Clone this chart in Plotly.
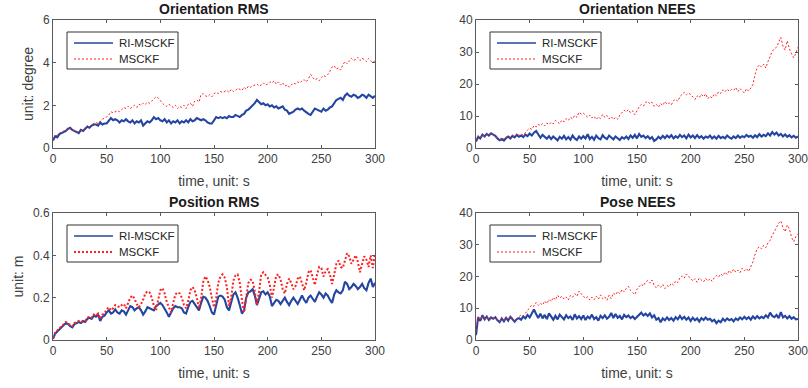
import plotly.graph_objects as go

time_s = list(range(0, 301, 2))

ori_rms_ri = [
    0.35, 0.55, 0.5, 0.65, 0.7, 0.75, 0.8, 0.9, 0.95, 0.85,
    0.8, 0.75, 0.7, 0.85, 0.8, 0.9, 1.0, 0.95, 1.05, 1.1,
    1.1, 1.05, 1.2, 1.1, 1.15, 1.15, 1.3, 1.4, 1.3, 1.35,
    1.3, 1.2, 1.3, 1.25, 1.35, 1.25, 1.2, 1.3, 1.15, 1.25,
    1.2, 1.3, 1.05, 1.15, 1.25, 1.2, 1.3, 1.45, 1.35, 1.4,
    1.3, 1.25, 1.35, 1.2, 1.3, 1.15, 1.25, 1.2, 1.3, 1.15,
    1.25, 1.2, 1.3, 1.2, 1.35, 1.25, 1.3, 1.4, 1.35, 1.3,
    1.35, 1.3, 1.2, 1.15, 1.15, 1.3, 1.45, 1.4, 1.45, 1.4,
    1.45, 1.4, 1.5, 1.45, 1.45, 1.55, 1.5, 1.45, 1.55, 1.6,
    1.75, 1.8, 1.9, 2.0, 2.1, 2.25, 2.15, 2.05, 2.1, 2.0,
    2.05, 1.95, 2.0, 1.9, 1.95, 1.85, 1.9, 1.95, 1.8, 1.75,
    1.6, 1.65, 1.7, 1.8, 1.85, 1.8, 1.85, 1.75, 1.65, 1.6,
    1.55, 1.7, 1.85, 1.8, 1.75, 1.7, 1.85, 1.75, 1.8, 1.9,
    1.95, 2.1, 2.25, 2.3, 2.35, 2.25, 2.45, 2.55, 2.45, 2.4,
    2.5, 2.45, 2.35, 2.4, 2.5, 2.45, 2.35, 2.5, 2.4, 2.35,
    2.45]

ori_rms_ms = [
    0.45, 0.55, 0.6, 0.7, 0.75, 0.8, 0.85, 0.95, 0.9, 0.85,
    0.8, 0.75, 0.75, 0.85, 0.85, 0.95, 1.05, 1.0, 1.1, 1.15,
    1.2, 1.15, 1.25, 1.35, 1.4, 1.45, 1.55, 1.7, 1.65, 1.7,
    1.75, 1.7, 1.8, 1.9, 1.85, 1.95, 1.85, 1.95, 2.0, 1.9,
    2.05, 2.0, 2.1, 2.05, 2.15, 2.1, 2.2, 2.3, 2.4, 2.35,
    2.2, 2.1, 2.0, 1.95, 2.05, 1.95, 1.9, 2.0, 1.85, 1.95,
    1.9, 2.0, 1.85, 2.05, 2.1, 1.95, 2.2, 2.25, 2.15, 2.5,
    2.55, 2.45, 2.4, 2.5, 2.4, 2.55, 2.6, 2.55, 2.65, 2.6,
    2.65, 2.7, 2.6, 2.75, 2.65, 2.7, 2.8, 2.75, 2.7, 2.85,
    2.75, 2.9, 2.85, 2.9, 2.95, 3.0, 2.9, 2.95, 3.05, 2.95,
    3.0, 3.1, 3.05, 3.15, 3.0, 3.1, 2.95, 3.05, 2.9, 2.95,
    2.85, 2.95, 3.05, 3.0, 3.1, 3.05, 3.15, 3.2, 3.1, 3.25,
    3.45, 3.3, 3.2, 3.25, 3.15, 3.3, 3.4, 3.35, 3.45, 3.6,
    3.8, 3.85, 3.7, 3.75, 3.65, 3.9, 4.05, 3.95, 4.1, 4.2,
    4.1, 4.15, 4.25, 4.1, 4.2, 4.15, 4.05, 4.2, 4.1, 4.0,
    4.1]

ori_nees_ri = [
    2.0, 3.5, 3.0, 4.2, 3.6, 4.4, 3.9, 4.6, 4.2, 3.8,
    3.0, 2.4, 2.8, 2.3, 3.1, 3.6, 3.0, 3.8, 3.3, 4.1,
    3.5, 3.9, 3.4, 4.2, 3.7, 4.5, 3.9, 4.8, 5.3, 4.4,
    3.2, 4.1, 3.4, 2.9, 3.7, 2.8, 3.6, 3.1, 2.4, 3.5,
    2.9, 3.8, 2.7, 3.4, 2.6, 3.9, 3.0, 2.5, 3.6, 2.9,
    3.7, 3.0, 4.3, 2.8, 3.5, 2.6, 3.9, 3.1, 2.7, 4.0,
    3.2, 2.8, 3.9, 3.3, 2.7, 3.6, 3.0, 2.5, 3.4, 2.9,
    3.6, 2.8, 3.9, 3.2, 4.1, 3.0, 4.4, 3.5, 3.9, 3.1,
    3.7, 2.9, 3.4, 2.2, 2.7, 3.5, 2.9, 3.8, 3.1, 3.9,
    3.3, 4.0, 3.0, 3.7, 3.2, 4.1, 3.4, 3.9, 3.0, 4.2,
    3.3, 3.9, 3.1, 4.0, 3.2, 3.7, 2.9, 3.6, 3.2, 3.9,
    3.0, 3.6, 2.9, 3.8, 3.1, 3.5, 3.0, 3.9, 3.3, 2.9,
    3.6, 3.1, 3.9, 3.2, 3.7, 3.4, 4.1, 3.5, 3.8, 3.2,
    4.0, 3.4, 4.3, 3.6, 4.1, 3.7, 4.6, 3.9, 5.0, 4.2,
    4.8, 3.9, 4.4, 3.6, 4.2, 3.5, 4.0, 3.3, 3.8, 3.2,
    3.6]

ori_nees_ms = [
    2.5, 3.8, 3.2, 4.1, 3.6, 4.3, 4.0, 4.6, 4.1, 3.7,
    3.1, 2.6, 3.0, 2.8, 3.4, 3.8, 3.3, 4.0, 3.6, 4.3,
    3.9, 4.4, 4.0, 4.9, 5.6, 6.2, 5.8, 7.0, 6.6, 7.4,
    7.0, 7.6, 6.9, 7.8, 7.3, 8.0, 7.5, 8.6, 8.1, 7.6,
    8.7, 8.2, 9.2, 8.6, 9.6, 9.1, 10.2, 9.6, 11.2, 10.6,
    10.9, 10.1, 9.6, 10.3, 9.4, 9.9, 8.9, 9.7, 9.2, 10.5,
    9.6, 10.2, 9.1, 9.8, 8.9, 9.6, 9.0, 10.3, 11.0, 11.8,
    11.3, 12.0, 11.0, 11.6, 10.4, 11.8, 12.9, 13.6, 13.1, 14.2,
    14.6, 13.8, 14.3, 13.0, 13.6, 12.8, 13.9, 13.3, 14.5, 13.7,
    14.1, 13.5, 14.8, 15.2, 14.6, 16.1, 16.8, 17.4, 16.6, 17.2,
    16.7, 15.9, 15.2, 16.3, 15.7, 16.8, 16.0, 16.9, 15.4, 16.2,
    15.6, 16.9, 16.3, 17.6, 17.1, 18.2, 17.6, 18.4, 17.7, 18.3,
    18.0, 18.9, 17.6, 18.6, 17.9, 17.2, 18.5, 17.8, 18.7, 19.9,
    23.0, 25.2, 26.0, 25.3, 26.2, 25.0, 27.0, 28.8, 30.2, 31.0,
    31.5, 33.0, 34.6, 31.8, 30.6, 33.5, 31.0, 29.4, 28.2, 29.6,
    31.5]

pos_rms_ri = [
    0.005, 0.03, 0.04, 0.05, 0.06, 0.07, 0.08, 0.075, 0.065, 0.06,
    0.075, 0.08, 0.085, 0.08, 0.09, 0.085, 0.1, 0.105, 0.1, 0.115,
    0.11, 0.12, 0.09, 0.11, 0.115, 0.13, 0.14, 0.125, 0.13, 0.145,
    0.13, 0.125, 0.14, 0.135, 0.12, 0.14, 0.16, 0.155, 0.14, 0.15,
    0.155, 0.14, 0.12, 0.135, 0.155, 0.15, 0.145, 0.14, 0.16, 0.17,
    0.175, 0.165, 0.15, 0.13, 0.11, 0.13, 0.15, 0.16, 0.155, 0.155,
    0.15, 0.13, 0.125, 0.155, 0.18, 0.185, 0.17, 0.155, 0.14, 0.175,
    0.205, 0.2, 0.185, 0.16, 0.13, 0.12, 0.165, 0.205, 0.21, 0.205,
    0.19, 0.155, 0.14, 0.175, 0.215, 0.225, 0.2, 0.165, 0.125, 0.14,
    0.2, 0.225, 0.23, 0.24, 0.21, 0.165, 0.195, 0.225, 0.23, 0.215,
    0.225, 0.205, 0.16, 0.175, 0.19, 0.185, 0.17, 0.185, 0.2, 0.18,
    0.165, 0.185, 0.2, 0.185, 0.17, 0.19, 0.21, 0.19, 0.175, 0.2,
    0.21, 0.195, 0.18, 0.205, 0.225, 0.215, 0.2, 0.22, 0.21, 0.19,
    0.175, 0.215, 0.235, 0.225, 0.22, 0.235, 0.275, 0.265, 0.24, 0.25,
    0.265, 0.255, 0.24, 0.25, 0.265, 0.245, 0.235, 0.27, 0.29, 0.25,
    0.27]

pos_rms_ms = [
    0.01, 0.035, 0.045, 0.055, 0.065, 0.075, 0.085, 0.08, 0.07, 0.065,
    0.08, 0.085, 0.09, 0.085, 0.09, 0.09, 0.105, 0.11, 0.105, 0.12,
    0.115, 0.125, 0.1, 0.12, 0.125, 0.145, 0.155, 0.14, 0.15, 0.165,
    0.16, 0.155, 0.165, 0.17, 0.15, 0.175, 0.2, 0.21, 0.195, 0.17,
    0.155, 0.17, 0.19, 0.22, 0.23, 0.225, 0.2, 0.16, 0.14, 0.19,
    0.235, 0.245, 0.22, 0.18, 0.15, 0.13, 0.175, 0.215, 0.225, 0.22,
    0.2, 0.165, 0.15, 0.185, 0.235, 0.25, 0.235, 0.2, 0.15, 0.2,
    0.275, 0.3, 0.285, 0.25, 0.2, 0.155, 0.2, 0.27, 0.3, 0.31,
    0.295, 0.25, 0.16, 0.2, 0.28, 0.305, 0.31, 0.27, 0.19, 0.13,
    0.2, 0.27, 0.285, 0.28, 0.23, 0.165, 0.23, 0.31, 0.32, 0.305,
    0.295, 0.26, 0.2, 0.25, 0.305, 0.31, 0.285, 0.24, 0.22, 0.265,
    0.29, 0.27, 0.24, 0.255, 0.29, 0.3, 0.27, 0.235, 0.27, 0.32,
    0.33, 0.29, 0.26, 0.31, 0.345, 0.34, 0.3, 0.325, 0.335, 0.31,
    0.265, 0.31, 0.36, 0.375, 0.345, 0.34, 0.38, 0.41, 0.395, 0.36,
    0.38, 0.4, 0.37, 0.32, 0.36, 0.395, 0.38, 0.345, 0.4, 0.34,
    0.41]

pose_nees_ri = [
    1.5, 7.2, 6.0, 7.8, 6.5, 7.4, 6.3, 7.1, 6.7, 7.2,
    6.2, 5.6, 6.8, 5.9, 7.0, 6.1, 7.3, 6.4, 5.8, 6.6,
    6.9, 6.4, 7.4, 6.8, 7.9, 7.1, 8.3, 9.6, 8.2, 6.9,
    8.3, 6.8, 7.9, 6.6, 8.4, 7.2, 6.4, 7.6, 6.5, 8.0,
    7.1, 6.5, 7.8, 6.9, 7.4, 6.3, 8.1, 6.8, 7.5, 6.6,
    7.7, 6.3, 7.4, 6.8, 8.0, 6.6, 7.2, 6.1, 7.6, 6.9,
    7.8, 6.7, 7.3, 8.5, 6.9, 8.2, 7.0, 7.6, 6.5, 7.9,
    7.2, 7.7, 6.9, 7.4, 6.6, 7.3, 7.9, 8.6, 7.7, 8.3,
    7.6, 8.4, 7.1, 7.8, 6.4, 6.9, 5.6, 6.8, 6.2, 7.1,
    6.3, 6.9, 6.1, 7.2, 6.5, 7.6, 6.6, 7.3, 6.4, 7.1,
    6.0, 7.0, 6.2, 6.8, 5.8, 6.9, 6.3, 7.1, 6.4, 6.7,
    5.9, 6.4, 5.3, 6.1, 5.6, 6.7, 6.0, 6.8, 6.2, 6.6,
    5.9, 6.8, 6.3, 7.1, 6.5, 7.3, 6.6, 7.2, 6.4, 7.4,
    6.7, 7.5, 6.8, 7.3, 6.9, 7.8, 7.1, 8.6, 7.6, 7.2,
    7.9, 6.9, 8.8, 7.1, 7.6, 6.8, 7.5, 6.7, 7.2, 6.5,
    6.6]

pose_nees_ms = [
    3.0, 7.5, 6.3, 7.7, 6.6, 7.3, 6.4, 7.0, 6.6, 7.1,
    6.3, 5.8, 6.9, 6.1, 7.1, 6.4, 7.6, 6.7, 6.1, 6.8,
    7.3, 7.9, 7.6, 8.5, 9.2, 10.3, 11.0, 10.6, 11.8, 10.9,
    11.6, 11.0, 12.3, 11.5, 12.8, 12.1, 13.4, 12.6, 14.1, 13.2,
    13.8, 12.9, 13.5, 12.6, 14.0, 13.4, 14.6, 13.8, 15.4, 14.6,
    14.0, 13.1, 13.6, 12.6, 13.5, 12.7, 13.8, 12.9, 14.2, 13.0,
    13.6, 12.5, 14.1, 13.0, 14.8, 14.2, 15.3, 14.6, 15.9, 15.2,
    16.2, 16.9, 15.6, 15.0, 14.3, 16.0, 16.9, 17.6, 17.0, 18.3,
    18.7, 17.9, 18.9, 17.2, 16.4, 17.3, 16.6, 17.5, 16.2, 17.1,
    16.8, 17.9, 17.3, 18.6, 18.1, 19.6, 20.2, 19.5, 20.8, 20.1,
    19.4, 18.6, 19.3, 18.2, 19.5, 18.9, 18.3, 19.4, 18.6, 19.3,
    18.5, 19.6, 20.3, 19.8, 20.8, 20.2, 21.4, 20.6, 21.9, 21.1,
    22.3, 21.4, 22.0, 21.2, 22.6, 21.8, 22.5, 21.6, 23.0, 24.6,
    27.0, 28.8, 29.4, 28.7, 29.8, 29.1, 30.6, 31.4, 33.0, 34.2,
    35.6, 36.8, 37.5, 35.3, 34.1, 36.2, 35.0, 32.3, 31.0, 32.6,
    33.5]

panel_titles = ["Orientation RMS", "Orientation NEES", "Position RMS", "Pose NEES"]
y_titles = ["unit: degree", "", "unit: m", ""]
y_ranges = [[0, 6], [0, 40], [0, 0.6], [0, 40]]
y_dticks = [2, 10, 0.2, 10]
series_names = ["RI-MSCKF", "MSCKF"]

W, H = 808, 388
# panel boxes in pixels: left, right, top, bottom
boxes = [(53, 375, 20, 148), (476, 798, 20, 148), (53, 375, 213, 340), (476, 798, 213, 340)]

BLUE = "#2446a0"
RED = "#ff1f1f"
AXC = "#5a5a5a"
TXT = "#404040"
FONT = "Liberation Sans, Arial, sans-serif"
DOT = "2px,2px"
BLUE_W = 2.1

data_pairs = [(ori_rms_ri, ori_rms_ms), (ori_nees_ri, ori_nees_ms),
              (pos_rms_ri, pos_rms_ms), (pose_nees_ri, pose_nees_ms)]


def px(x):
    return x / W


def py(y):
    return 1 - y / H


fig = go.Figure()
layout = dict(width=W, height=H, margin=dict(l=0, r=0, t=0, b=0, autoexpand=False),
              paper_bgcolor="white", plot_bgcolor="white", showlegend=False,
              font=dict(family=FONT, color=TXT), annotations=[], shapes=[])

for i, (ri, ms) in enumerate(data_pairs):
    n = i + 1
    xa = "x" if n == 1 else f"x{n}"
    ya = "y" if n == 1 else f"y{n}"
    ms_width = 2 if i == 2 else 1
    fig.add_trace(go.Scatter(x=time_s, y=ri, mode="lines", name=series_names[0],
                             line=dict(color=BLUE, width=BLUE_W), xaxis=xa, yaxis=ya))
    fig.add_trace(go.Scatter(x=time_s, y=ms, mode="lines", name=series_names[1],
                             line=dict(color=RED, width=ms_width, dash=DOT),
                             xaxis=xa, yaxis=ya))
    l, r, t, b = boxes[i]
    axkey = "xaxis" if n == 1 else f"xaxis{n}"
    aykey = "yaxis" if n == 1 else f"yaxis{n}"
    layout[axkey] = dict(domain=[px(l), px(r)], range=[0, 300], dtick=50, tick0=0, anchor=ya,
                         automargin=False, ticklabeloverflow="allow",
                         showline=True, linecolor=AXC, linewidth=1, mirror="ticks",
                         ticks="inside", ticklen=3, tickcolor=AXC, showgrid=False,
                         zeroline=False, tickfont=dict(size=12, color=TXT),
                         title=dict(text="time, unit: s", font=dict(size=14, color=TXT), standoff=10))
    layout[aykey] = dict(domain=[py(b), py(t)], range=y_ranges[i], dtick=y_dticks[i], tick0=0,
                         anchor=xa, automargin=False, ticklabeloverflow="allow",
                         showline=True, linecolor=AXC, linewidth=1, mirror="ticks",
                         ticks="inside", ticklen=3, tickcolor=AXC, showgrid=False,
                         zeroline=False, tickfont=dict(size=12, color=TXT),
                         title=dict(text=y_titles[i], font=dict(size=14, color=TXT), standoff=6))
    # legend box (MATLAB style, drawn in paper coordinates)
    layout["shapes"].append(dict(type="rect", xref="paper", yref="paper",
                                 x0=px(l + 14), x1=px(l + 125), y0=py(t + 49), y1=py(t + 12),
                                 line=dict(color="#333333", width=1), fillcolor="white", layer="above"))
    for k, (nm, col, dash, wd) in enumerate([(series_names[0], BLUE, "solid", 1.7),
                                             (series_names[1], RED, DOT, ms_width)]):
        yy = t + 23 + 16 * k
        layout["shapes"].append(dict(type="line", xref="paper", yref="paper",
                                     x0=px(l + 21), x1=px(l + 60), y0=py(yy), y1=py(yy),
                                     line=dict(color=col, width=wd, dash=dash), layer="above"))
        layout["annotations"].append(dict(text=nm, x=px(l + 64), y=py(yy), xref="paper", yref="paper",
                                          showarrow=False, xanchor="left", yanchor="middle",
                                          font=dict(size=11.5, color="#262626", family=FONT)))
    layout["annotations"].append(dict(text="<b>" + panel_titles[i] + "</b>",
                                      x=px((l + r) / 2), y=py(t - 11),
                                      xref="paper", yref="paper", showarrow=False,
                                      xanchor="center", yanchor="middle",
                                      font=dict(size=14, color="#1a1a1a", family=FONT)))

fig.update_layout(**layout)
fig.write_html("out.html", config={"displayModeBar": False},
               post_script="document.body.style.margin='0';document.body.style.overflow='hidden';")
